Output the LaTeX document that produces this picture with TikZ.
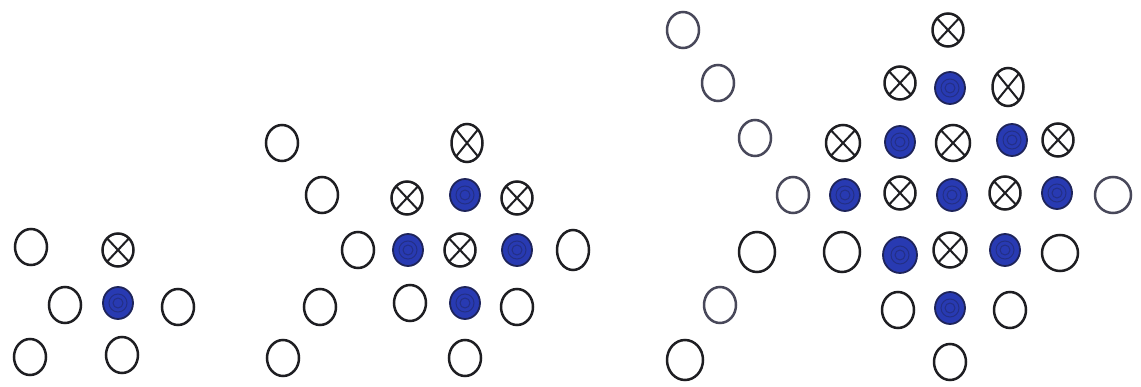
\documentclass[tikz,border=0pt]{standalone}
\usetikzlibrary{shapes.geometric}
\definecolor{ink}{RGB}{30,30,34}
\definecolor{slate}{RGB}{72,72,90}
\definecolor{pen}{RGB}{40,58,178}
\definecolor{penedge}{RGB}{30,36,90}
\tikzset{
  base/.style={ellipse, inner sep=0pt, line width=2.5pt, draw=ink, minimum width=32pt, minimum height=36pt},
  emp/.style={base},
  emq/.style={base, draw=slate},
  crs/.style={base, minimum width=31pt, minimum height=33pt,
    path picture={\draw[ink, line width=2pt]
      (path picture bounding box.north west) -- (path picture bounding box.south east)
      (path picture bounding box.north east) -- (path picture bounding box.south west);}},
  blu/.style={base, draw=penedge, fill=pen, line width=1.8pt, minimum width=30pt, minimum height=32pt,
    path picture={\draw[penedge!50!pen, line width=1pt] (path picture bounding box.center) circle (5pt) circle (9pt);}}
}
\begin{document}
\begin{tikzpicture}[x=1pt,y=-1pt]
\useasboundingbox (0,0) rectangle (1141,387);
% group 1
\node[emp] (a1) at (31,247) {};
\node[crs] (a2) at (118,250) {};
\node[emp] (a3) at (65,305) {};
\node[blu] (a4) at (118,303) {};
\node[emp] (a5) at (178,307) {};
\node[emp] (a6) at (30,357) {};
\node[emp] (a7) at (122,355) {};
% group 2
\node[emp] (b1) at (282,143) {};
\node[crs, minimum height=38pt] (b2) at (467,143) {};
\node[emp] (b3) at (322,195) {};
\node[crs] (b4) at (407,198) {};
\node[blu] (b5) at (465,195) {};
\node[crs] (b6) at (517,198) {};
\node[emp] (b7) at (358,250) {};
\node[blu] (b8) at (408,250) {};
\node[crs] (b9) at (460,250) {};
\node[blu] (b10) at (517,250) {};
\node[emp, minimum height=40pt] (b11) at (573,250) {};
\node[emp] (b12) at (320,307) {};
\node[emp] (b13) at (410,303) {};
\node[blu] (b14) at (465,303) {};
\node[emp] (b15) at (517,307) {};
\node[emp] (b16) at (283,358) {};
\node[emp] (b17) at (465,358) {};
% group 3
\node[emq] (c1) at (683,30) {};
\node[crs] (c2) at (948,30) {};
\node[emq] (c3) at (718,83) {};
\node[crs] (c4) at (900,83) {};
\node[blu] (c5) at (950,88) {};
\node[crs, minimum height=38pt] (c6) at (1008,87) {};
\node[emq] (c7) at (755,138) {};
\node[crs, minimum width=34pt, minimum height=36pt] (c8) at (843,143) {};
\node[blu] (c9) at (900,142) {};
\node[crs, minimum width=34pt, minimum height=36pt] (c10) at (953,143) {};
\node[blu] (c11) at (1012,140) {};
\node[crs] (c12) at (1058,140) {};
\node[emq] (c13) at (793,195) {};
\node[blu] (c14) at (845,195) {};
\node[crs] (c15) at (900,193) {};
\node[blu] (c16) at (952,195) {};
\node[crs] (c17) at (1005,193) {};
\node[blu] (c18) at (1057,193) {};
\node[emq, minimum width=36pt] (c19) at (1113,195) {};
\node[emp, minimum width=36pt, minimum height=40pt] (c20) at (757,252) {};
\node[emp, minimum width=36pt, minimum height=40pt] (c21) at (842,252) {};
\node[blu, minimum width=34pt, minimum height=36pt] (c22) at (900,255) {};
\node[crs, minimum width=33pt, minimum height=35pt] (c23) at (950,250) {};
\node[blu] (c24) at (1005,250) {};
\node[emp, minimum width=36pt] (c25) at (1060,253) {};
\node[emq] (c26) at (720,305) {};
\node[emp] (c27) at (898,310) {};
\node[blu] (c28) at (950,308) {};
\node[emp] (c29) at (1010,310) {};
\node[emp, minimum width=36pt, minimum height=40pt] (c30) at (685,360) {};
\node[emp] (c31) at (950,362) {};
\end{tikzpicture}
\end{document}
